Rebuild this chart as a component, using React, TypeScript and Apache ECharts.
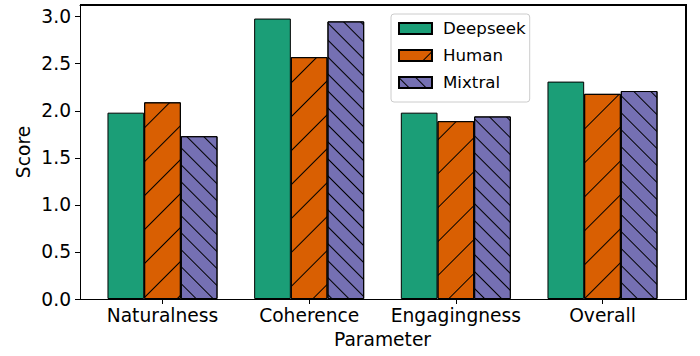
import React, { useEffect, useRef } from "react";
import * as echarts from "echarts";

const categories = ["Naturalness", "Coherence", "Engagingness", "Overall"];
const models = ["Deepseek", "Human", "Mixtral"];
const deepseek = [1.98, 2.98, 1.98, 2.31];
const human = [2.09, 2.57, 1.89, 2.18];
const mixtral = [1.73, 2.95, 1.94, 2.21];
const yTicks = [0, 0.5, 1.0, 1.5, 2.0, 2.5, 3.0];
const colors = ["#1b9e77", "#d95f02", "#7570b3"];
const Y_MAX = 3.124;

const FONT = "DejaVu Sans";

export default function App() {
  const ref = useRef<HTMLDivElement>(null);
  useEffect(() => {
    if (!ref.current) return;
    document.body.style.margin = "0";
    const chart = echarts.init(ref.current, null, { renderer: "svg" });
    const values = [deepseek, human, mixtral];
    const offsets = [-0.25, 0, 0.25];
    const decals: any[] = [
      { symbol: "none" },
      { symbol: "rect", symbolSize: 1, dashArrayX: [1, 0], dashArrayY: [1, 23], rotation: -Math.PI / 4, color: "#000" },
      { symbol: "rect", symbolSize: 1, dashArrayX: [1, 0], dashArrayY: [1, 11], rotation: Math.PI / 4, color: "#000" },
    ];
    const series: any[] = models.map((m, si) => ({
      name: m,
      type: "bar",
      barWidth: 36.7,
      barGap: "-100%",
      data: values[si].map((v, i) => [i + offsets[si], v]),
      itemStyle: {
        color: colors[si],
        borderColor: "#000",
        borderWidth: 1,
        decal: si === 0 ? undefined : decals[si],
      },
      markLine:
        si === 0
          ? {
              silent: true,
              symbol: "none",
              label: { show: false },
              lineStyle: { color: "#000", width: 1, type: "solid" },
              data: [{ yAxis: Y_MAX }],
            }
          : undefined,
    }));
    chart.setOption({
      animation: false,
      grid: {
        left: 80,
        right: 15,
        top: 5,
        bottom: 57,
      },
      legend: {
        orient: "vertical",
        left: 391,
        top: 14,
        padding: [6, 4, 11, 7],
        itemWidth: 33,
        itemHeight: 11,
        itemGap: 10,
        backgroundColor: "rgba(255,255,255,0.8)",
        borderColor: "#cccccc",
        borderWidth: 1,
        borderRadius: 3,
        icon: "rect",
        textStyle: { fontFamily: FONT, fontSize: 16.67, color: "#000", lineHeight: 16, padding: [0, 0, 0, 6] },
        data: models,
      },
      xAxis: [
        {
          type: "value",
          min: -0.5625,
          max: 3.5625,
          position: "bottom",
          name: "Parameter",
          nameLocation: "middle",
          nameGap: 31,
          nameMoveOverlap: false,
          nameTextStyle: { fontFamily: FONT, fontSize: 18.67, color: "#000" },
          axisLine: { show: true, onZero: false, lineStyle: { color: "#000", width: 1 } },
          axisTick: { show: true, customValues: [0, 1, 2, 3], length: 5, lineStyle: { color: "#000" } },
          axisLabel: {
            customValues: [0, 1, 2, 3],
            formatter: (v: number) => categories[Math.round(v)] ?? "",
            fontFamily: FONT,
            fontSize: 18.67,
            color: "#000",
            margin: 7,
          },
          splitLine: { show: false },
        },
        {
          type: "value",
          min: -0.5625,
          max: 3.5625,
          position: "top",
          axisLine: { show: true, onZero: false, lineStyle: { color: "#000", width: 1 } },
          axisTick: { show: false },
          axisLabel: { show: false },
          splitLine: { show: false },
        },
      ],
      yAxis: [
        {
          type: "value",
          min: 0,
          max: Y_MAX,
          position: "left",
          name: "Score",
          nameLocation: "middle",
          nameGap: 47,
          nameMoveOverlap: false,
          nameTextStyle: { fontFamily: FONT, fontSize: 18.67, color: "#000" },
          axisLine: { show: true, onZero: false, lineStyle: { color: "#000", width: 1 } },
          axisTick: { show: true, customValues: yTicks, length: 5, lineStyle: { color: "#000" } },
          axisLabel: {
            customValues: yTicks,
            formatter: (v: number) => v.toFixed(1),
            fontFamily: FONT,
            fontSize: 18.67,
            color: "#000",
            margin: 9,
          },
          splitLine: { show: false },
        },
        {
          type: "value",
          min: 0,
          max: Y_MAX,
          position: "right",
          axisLine: { show: true, onZero: false, lineStyle: { color: "#000", width: 1 } },
          axisTick: { show: false },
          axisLabel: { show: false },
          splitLine: { show: false },
        },
      ],
      series: [
        ...series,
        {
          type: "line",
          xAxisIndex: 1,
          yAxisIndex: 1,
          data: [],
          silent: true,
        },
      ],
    });
    return () => chart.dispose();
  }, []);
  return (
    <div style={{ position: "fixed", left: 0, top: 0, width: 700, height: 356, background: "#fff" }}>
      <div ref={ref} style={{ width: 700, height: 356 }} />
      <div
        style={{
          position: "absolute",
          left: 80,
          top: 4,
          width: 605,
          height: 294,
          border: "1px solid #000",
          pointerEvents: "none",
        }}
      />
    </div>
  );
}
